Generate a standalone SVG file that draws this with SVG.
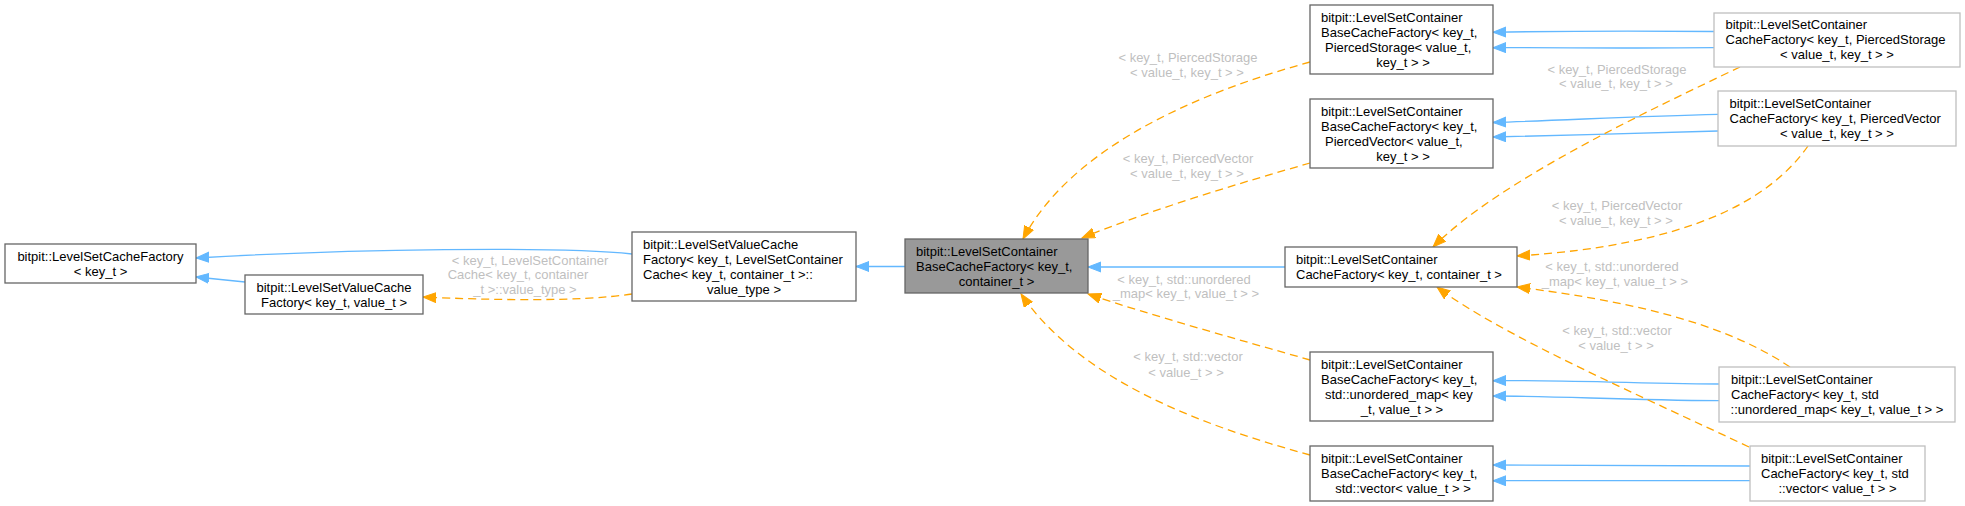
<svg xmlns="http://www.w3.org/2000/svg" width="1965" height="506" viewBox="0 0 1965 506">
<style>
text{font-family:"Liberation Sans",Arial,Helvetica,sans-serif;font-size:13px;fill:#000}
.n rect{fill:#fff;stroke:#666;stroke-width:1.3}
.n.u rect{stroke:#bfbfbf}
.n.g rect{fill:#999}
.m{text-anchor:middle}
.lbl text{fill:#bfbfbf;text-anchor:middle}
.b{fill:none;stroke:#63b8ff;stroke-width:1.3;marker-end:url(#ab)}
.o{fill:none;stroke:#ffa500;stroke-width:1.3;stroke-dasharray:8,5;marker-end:url(#ao)}
</style>
<defs>
<marker id="ab" markerUnits="userSpaceOnUse" markerWidth="15" markerHeight="12" refX="13" refY="5.5" orient="auto"><path d="M0,0.5 L13,5.5 L0,10.5 z" fill="#63b8ff" stroke="#63b8ff"/></marker>
<marker id="ao" markerUnits="userSpaceOnUse" markerWidth="15" markerHeight="12" refX="13" refY="5.5" orient="auto"><path d="M0,0.5 L13,5.5 L0,10.5 z" fill="#ffa500" stroke="#ffa500"/></marker>
</defs>
<rect width="1965" height="506" fill="#fff"/>
<g id="edges">
<path class="b" d="M632,254 C560,246 350,249 196,258"/>
<path class="b" d="M245,282 L196,277"/>
<path class="b" d="M905,266.5 L856,266.5"/>
<path class="b" d="M1285,267 L1088,267"/>
<path class="b" d="M1714,31.5 C1620,30.5 1560,31 1493,32.3"/>
<path class="b" d="M1714,47.7 C1620,48.5 1560,47.5 1493,47.7"/>
<path class="b" d="M1718,114.3 C1640,116 1570,120 1493,122.5"/>
<path class="b" d="M1718,131 C1640,133 1570,135.5 1493,137"/>
<path class="b" d="M1719,384 C1620,383 1560,380 1493,380.7"/>
<path class="b" d="M1719,400.7 C1620,400 1560,396 1493,396"/>
<path class="b" d="M1750,466 C1650,465 1560,465 1493,465"/>
<path class="b" d="M1750,480.7 C1650,481 1560,481 1493,480.7"/>
<path class="o" d="M1310,62 C1190,95 1070,150 1023,239"/>
<path class="o" d="M1310,163 C1240,183 1150,210 1082,238"/>
<path class="o" d="M1740,67 C1650,110 1500,180 1433,247"/>
<path class="o" d="M1808,146 C1770,200 1690,245 1517,256"/>
<path class="o" d="M1790,367 C1720,320 1620,300 1517,287"/>
<path class="o" d="M1749,447 C1650,400 1500,335 1437,287"/>
<path class="o" d="M1310,360 C1240,340 1150,315 1088,294"/>
<path class="o" d="M1310,455 C1200,425 1080,380 1021,294"/>
<path class="o" d="M632,294 C580,302 490,300 423,297"/>
</g>
<g class="lbl">
<text x="530" y="264.5">&lt; key_t, LevelSetContainer</text>
<text x="518" y="279">Cache&lt; key_t, container</text>
<text x="525" y="293.5">_t &gt;::value_type &gt;</text>
<text x="1188" y="62">&lt; key_t, PiercedStorage</text>
<text x="1187" y="77">&lt; value_t, key_t &gt; &gt;</text>
<text x="1188" y="163">&lt; key_t, PiercedVector</text>
<text x="1187" y="178">&lt; value_t, key_t &gt; &gt;</text>
<text x="1617" y="73.5">&lt; key_t, PiercedStorage</text>
<text x="1616" y="88">&lt; value_t, key_t &gt; &gt;</text>
<text x="1617" y="209.5">&lt; key_t, PiercedVector</text>
<text x="1616" y="224.5">&lt; value_t, key_t &gt; &gt;</text>
<text x="1612" y="271">&lt; key_t, std::unordered</text>
<text x="1615" y="285.5">_map&lt; key_t, value_t &gt; &gt;</text>
<text x="1617" y="335">&lt; key_t, std::vector</text>
<text x="1616" y="349.5">&lt; value_t &gt; &gt;</text>
<text x="1184" y="283.5">&lt; key_t, std::unordered</text>
<text x="1186" y="298">_map&lt; key_t, value_t &gt; &gt;</text>
<text x="1188" y="361">&lt; key_t, std::vector</text>
<text x="1186" y="376.5">&lt; value_t &gt; &gt;</text>
</g>
<g id="n1" class="n"><rect x="5" y="244" width="191" height="39"/>
<text class="m" x="100.5" y="260.5">bitpit::LevelSetCacheFactory</text>
<text class="m" x="100.5" y="275.5">&lt; key_t &gt;</text></g>
<g id="n2" class="n"><rect x="245" y="275" width="178" height="39"/>
<text class="m" x="334" y="291.5">bitpit::LevelSetValueCache</text>
<text class="m" x="334" y="306.5">Factory&lt; key_t, value_t &gt;</text></g>
<g id="n3" class="n"><rect x="632" y="232" width="224" height="69"/>
<text x="643" y="248.5">bitpit::LevelSetValueCache</text>
<text x="643" y="263.5">Factory&lt; key_t, LevelSetContainer</text>
<text x="643" y="278.5">Cache&lt; key_t, container_t &gt;::</text>
<text class="m" x="744" y="293.5">value_type &gt;</text></g>
<g id="n4" class="n g"><rect x="905" y="239" width="183" height="54"/>
<text x="916" y="256">bitpit::LevelSetContainer</text>
<text x="916" y="271">BaseCacheFactory&lt; key_t,</text>
<text class="m" x="996.5" y="286">container_t &gt;</text></g>
<g id="n5" class="n"><rect x="1285" y="247" width="232" height="40"/>
<text x="1296" y="263.5">bitpit::LevelSetContainer</text>
<text x="1296" y="278.5">CacheFactory&lt; key_t, container_t &gt;</text></g>
<g id="n6" class="n"><rect x="1310" y="5" width="183" height="69"/>
<text x="1321" y="21.5">bitpit::LevelSetContainer</text>
<text x="1321" y="36.5">BaseCacheFactory&lt; key_t,</text>
<text x="1325" y="51.5">PiercedStorage&lt; value_t,</text>
<text class="m" x="1403" y="66.5">key_t &gt; &gt;</text></g>
<g id="n7" class="n"><rect x="1310" y="99" width="183" height="69"/>
<text x="1321" y="115.5">bitpit::LevelSetContainer</text>
<text x="1321" y="130.5">BaseCacheFactory&lt; key_t,</text>
<text x="1325" y="145.5">PiercedVector&lt; value_t,</text>
<text class="m" x="1403" y="160.5">key_t &gt; &gt;</text></g>
<g id="n8" class="n"><rect x="1310" y="352" width="183" height="69"/>
<text x="1321" y="368.5">bitpit::LevelSetContainer</text>
<text x="1321" y="383.5">BaseCacheFactory&lt; key_t,</text>
<text x="1325" y="398.5">std::unordered_map&lt; key</text>
<text class="m" x="1402" y="413.5">_t, value_t &gt; &gt;</text></g>
<g id="n9" class="n"><rect x="1310" y="446" width="183" height="55"/>
<text x="1321" y="462.5">bitpit::LevelSetContainer</text>
<text x="1321" y="477.5">BaseCacheFactory&lt; key_t,</text>
<text class="m" x="1403" y="492.5">std::vector&lt; value_t &gt; &gt;</text></g>
<g id="n10" class="n u"><rect x="1714" y="13" width="246" height="54"/>
<text x="1725.5" y="29">bitpit::LevelSetContainer</text>
<text x="1725.5" y="44">CacheFactory&lt; key_t, PiercedStorage</text>
<text class="m" x="1837" y="59">&lt; value_t, key_t &gt; &gt;</text></g>
<g id="n11" class="n u"><rect x="1718" y="91" width="238" height="55"/>
<text x="1729.5" y="107.5">bitpit::LevelSetContainer</text>
<text x="1729.5" y="122.5">CacheFactory&lt; key_t, PiercedVector</text>
<text class="m" x="1837" y="137.5">&lt; value_t, key_t &gt; &gt;</text></g>
<g id="n12" class="n u"><rect x="1719" y="367" width="236" height="55"/>
<text x="1731" y="384">bitpit::LevelSetContainer</text>
<text x="1731" y="399">CacheFactory&lt; key_t, std</text>
<text class="m" x="1837" y="414">::unordered_map&lt; key_t, value_t &gt; &gt;</text></g>
<g id="n13" class="n u"><rect x="1750" y="446" width="175" height="55"/>
<text x="1761" y="462.5">bitpit::LevelSetContainer</text>
<text x="1761" y="477.5">CacheFactory&lt; key_t, std</text>
<text class="m" x="1837.5" y="492.5">::vector&lt; value_t &gt; &gt;</text></g>
</svg>
